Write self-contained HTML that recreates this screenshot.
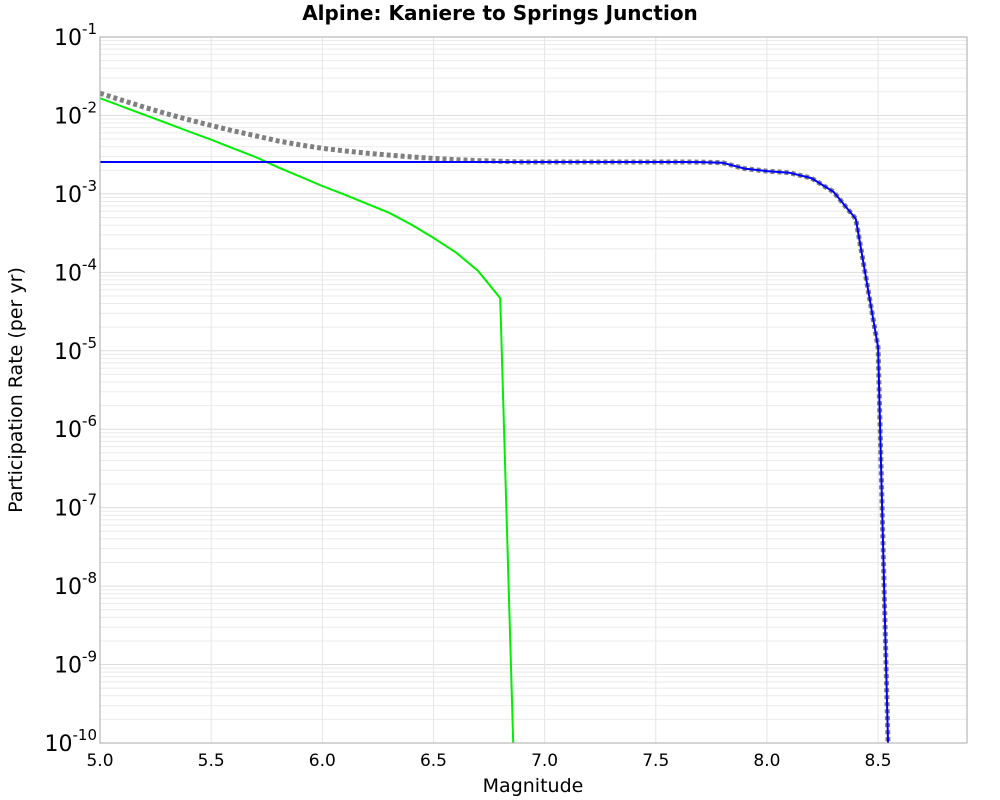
<!DOCTYPE html>
<html><head><meta charset="utf-8"><style>
html,body{margin:0;padding:0;background:#fff;overflow:hidden;width:1000px;height:800px;}
svg{display:block;}
svg text{font-family:"DejaVu Sans","Liberation Sans",sans-serif;}
</style></head><body>
<svg id="chart" width="1000" height="800" xmlns="http://www.w3.org/2000/svg">
<rect width="1000" height="800" fill="#fff"/>
<text x="500" y="20" text-anchor="middle" font-size="20" font-weight="bold">Alpine: Kaniere to Springs Junction</text>
<g id="grid"></g>
<g id="series"></g>
<rect x="100" y="37" width="867" height="706" fill="none" stroke="#aaa" stroke-width="1"/>
<g id="xticks"></g>
<g id="yticks"></g>
<text x="533" y="792" text-anchor="middle" font-size="19">Magnitude</text>
<text transform="translate(22,390) rotate(-90)" text-anchor="middle" font-size="19">Participation Rate (per yr)</text>
</svg>
<script>
const xTicks=[5.0,5.5,6.0,6.5,7.0,7.5,8.0,8.5];
const yExps=[-1,-2,-3,-4,-5,-6,-7,-8,-9,-10];
const mags=[5.0,5.1,5.2,5.3,5.4,5.5,5.6,5.7,5.8,5.9,6.0,6.1,6.2,6.3,6.4,6.5,6.6,6.7,6.8,6.9,7.0,7.1,7.2,7.3,7.4,7.5,7.6,7.7,7.8,7.9,8.0,8.1,8.2,8.3,8.4,8.5,8.6];
const totalRates=[1.92e-2,1.56e-2,1.27e-2,1.05e-2,8.8e-3,7.45e-3,6.35e-3,5.5e-3,4.74e-3,4.21e-3,3.81e-3,3.53e-3,3.30e-3,3.12e-3,2.96e-3,2.83e-3,2.73e-3,2.66e-3,2.60e-3,2.55e-3,2.55e-3,2.55e-3,2.55e-3,2.55e-3,2.55e-3,2.55e-3,2.55e-3,2.54e-3,2.5e-3,2.1e-3,1.95e-3,1.86e-3,1.59e-3,1.06e-3,4.8e-4,1.1e-5,6e-17];
const faultRates=[2.55e-3,2.55e-3,2.55e-3,2.55e-3,2.55e-3,2.55e-3,2.55e-3,2.55e-3,2.55e-3,2.55e-3,2.55e-3,2.55e-3,2.55e-3,2.55e-3,2.55e-3,2.55e-3,2.55e-3,2.55e-3,2.55e-3,2.55e-3,2.55e-3,2.55e-3,2.55e-3,2.55e-3,2.55e-3,2.55e-3,2.55e-3,2.54e-3,2.5e-3,2.1e-3,1.95e-3,1.86e-3,1.59e-3,1.06e-3,4.8e-4,1.1e-5,6e-17];
const gridRates=[1.66e-2,1.30e-2,1.02e-2,7.98e-3,6.25e-3,4.9e-3,3.8e-3,2.95e-3,2.19e-3,1.66e-3,1.26e-3,9.8e-4,7.5e-4,5.75e-4,4.07e-4,2.75e-4,1.8e-4,1.05e-4,4.7e-5,1e-14];

const NS="http://www.w3.org/2000/svg";
const X0=100,X1=967,Y0=37,Y1=743,xMin=5.0,xMax=8.9,lMax=-1,lMin=-10;
const sx=v=>X0+(v-xMin)/(xMax-xMin)*(X1-X0);
const sy=v=>Y0+(lMax-Math.log10(v))/(lMax-lMin)*(Y1-Y0);
function mk(tag,parent){const e=document.createElementNS(NS,tag);document.getElementById(parent).appendChild(e);return e;}
for(let e=-10;e<-1;e++){for(let m=1;m<10;m++){const y=sy(m*Math.pow(10,e));
 const l=mk('line','grid');
 
 
 l.setAttribute('x1',X0);l.setAttribute('x2',X1);l.setAttribute('y1',y);l.setAttribute('y2',y);
 l.setAttribute('stroke',m===1?'#ddd':'#ebebeb');l.setAttribute('stroke-width','1');}}
xTicks.forEach(t=>{const x=sx(t);
 const l=mk('line','grid');
 
 
 l.setAttribute('x1',x);l.setAttribute('x2',x);l.setAttribute('y1',Y0);l.setAttribute('y2',Y1);
 l.setAttribute('stroke','#e6e6e6');
 const tx=mk('text','xticks');
 
 
 tx.setAttribute('x',x);tx.setAttribute('y',766);tx.setAttribute('text-anchor','middle');tx.setAttribute('font-size','17');
 tx.textContent=t.toFixed(1);});
yExps.forEach(e=>{const y=sy(Math.pow(10,e));
 const tx=mk('text','yticks');
 
 
 tx.setAttribute('x',97);tx.setAttribute('y',y+8);tx.setAttribute('text-anchor','end');tx.setAttribute('font-size','22');
 const b=document.createElementNS(NS,'tspan');b.textContent='10';tx.appendChild(b);
 const s=document.createElementNS(NS,'tspan');s.setAttribute('font-size','15');s.setAttribute('dy','-11');s.textContent=String(e);tx.appendChild(s);});
const defs=mk('defs','series');const cp=document.createElementNS(NS,'clipPath');cp.setAttribute('id','clip');defs.appendChild(cp);
const cr=document.createElementNS(NS,'rect');cr.setAttribute('x',X0);cr.setAttribute('y',Y0);cr.setAttribute('width',X1-X0);cr.setAttribute('height',Y1-Y0);cp.appendChild(cr);
function path(vals,color,w,dash,name){
 const p=mk('path','series');
 
 
 p.setAttribute('d',vals.map((v,i)=>(i?'L':'M')+sx(mags[i]).toFixed(1)+','+sy(v).toFixed(1)).join(' '));
 p.setAttribute('fill','none');p.setAttribute('stroke',color);p.setAttribute('stroke-width',w);
 if(dash)p.setAttribute('stroke-dasharray',dash);
 p.setAttribute('clip-path','url(#clip)');}
path(totalRates,'#808080',5,'4,3','total-rate-line');
path(gridRates,'#00ee00',2,null,'gridded-rate-line');
path(faultRates,'#0000ff',2,null,'fault-rate-line');
</script>
</body></html>
